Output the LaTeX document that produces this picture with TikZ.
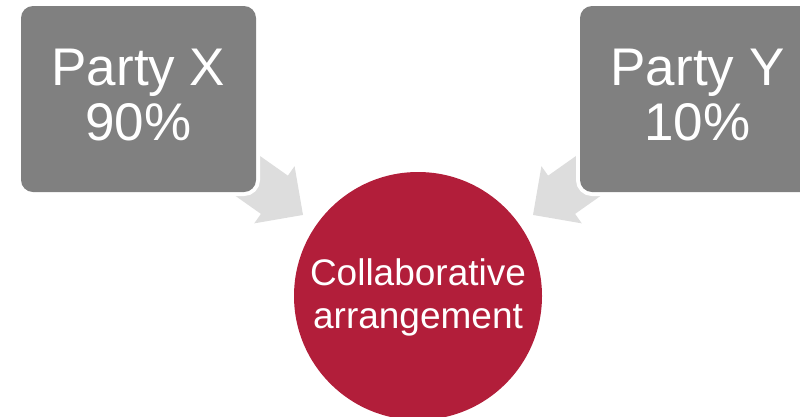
\documentclass[tikz,border=0pt]{standalone}
\usepackage{fontspec}
\setmainfont{Liberation Sans}
\usetikzlibrary{calc,backgrounds}
\definecolor{partygray}{RGB}{128,128,128}
\definecolor{flowgray}{RGB}{221,221,221}
\definecolor{hubred}{RGB}{178,30,58}

\begin{document}
\begin{tikzpicture}[x=1pt,y=1pt,
		partybox/.style={rectangle, rounded corners=12pt, fill=partygray, preaction={draw=white, line width=8pt},
			minimum width=235pt, minimum height=186pt, inner sep=0pt, text=white, align=center,
			font=\fontsize{53}{55}\selectfont, text depth=8pt},
		hubcircle/.style={circle, fill=hubred, minimum size=248pt, inner sep=0pt, text=white, align=center,
			font=\fontsize{37}{43}\selectfont, text height=73pt},
		flowarrow/.style={fill=flowgray}]
		\useasboundingbox (0,0) rectangle (800,-416);
		\node[partybox] (px) at (138.5,-99) {Party X\\90\%};
		\node[partybox] (py) at (697.5,-99) {Party Y\\10\%};
		\node[hubcircle] (hub) at (418,-296) {Collaborative\\arrangement};
		% block arrows, tails hidden under the boxes
		\begin{scope}[on background layer]
			\begin{scope}[shift={($(hub)!140.7pt!(px)$)}, rotate=-35.2]
				\fill[flowarrow] (0,0)--(-35,35)--(-35,23.4)--(-110,23.4)--(-110,-23.4)--(-35,-23.4)--(-35,-35)--cycle;
			\end{scope}
			\begin{scope}[shift={($(hub)!140.7pt!(py)$)}, rotate=-144.8]
				\fill[flowarrow] (0,0)--(-35,35)--(-35,23.4)--(-110,23.4)--(-110,-23.4)--(-35,-23.4)--(-35,-35)--cycle;
			\end{scope}
		\end{scope}
	\end{tikzpicture}
\end{document}
